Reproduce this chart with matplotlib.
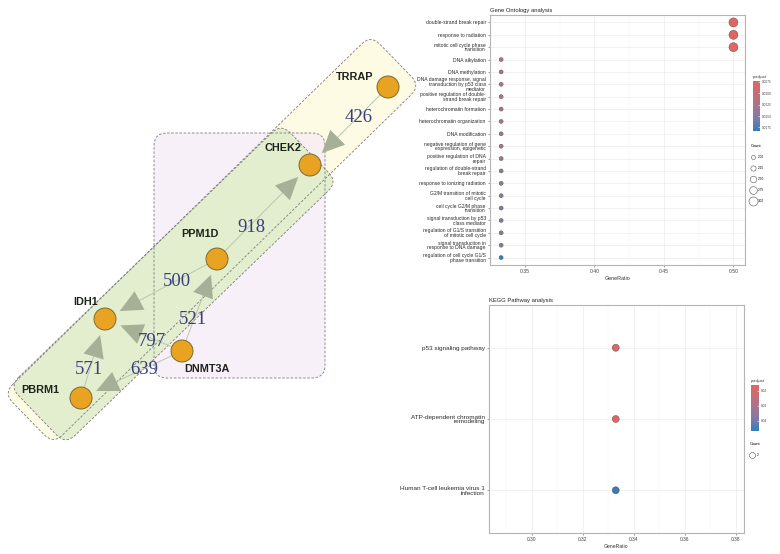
import textwrap
import matplotlib
matplotlib.use('Agg')
import matplotlib.pyplot as plt
from matplotlib.patches import FancyBboxPatch, Circle, FancyArrowPatch
from matplotlib.colors import LinearSegmentedColormap, Normalize
from matplotlib.transforms import Affine2D
from matplotlib.lines import Line2D
import matplotlib.cm as cm

plt.rcParams['font.family'] = ['Liberation Sans', 'DejaVu Sans']

W, H = 780, 554

# ---- network (left panel), pixel layout of the original figure
gene_names = ['TRRAP', 'CHEK2', 'PPM1D', 'IDH1', 'DNMT3A', 'PBRM1']
gene_x = [388, 310, 217, 105, 182, 81]
gene_y = [87, 165, 259, 319, 351, 398]
label_x = [355, 283, 200, 86, 207, 40]
label_y = [77, 148, 234, 302, 369, 390]

edge_src = ['TRRAP', 'PPM1D', 'PPM1D', 'DNMT3A', 'DNMT3A', 'PBRM1', 'DNMT3A']
edge_dst = ['CHEK2', 'CHEK2', 'IDH1', 'IDH1', 'PPM1D', 'IDH1', 'PBRM1']
edge_weight = [426, 918, 500, 797, 521, 571, 639]
weight_x = [359, 251, 177, 152, 193, 89, 144]
weight_y = [117, 227, 282, 341, 319, 369, 369]

# group boxes (yellow, pink, green): centre, length, width, angle
group_cx = [212, 239.5, 173.5]
group_cy = [239.5, 255.5, 284]
group_len = [513, 171, 378]
group_wid = [71, 245, 81]
group_ang = [-44.3, 0, -44.0]
group_fill = ['#fdfbe3', '#f6ecf6', '#e3eecf']
group_alpha = [1.0, 0.75, 1.0]

# ---- GO enrichment
go_terms = ['double-strand break repair', 'response to radiation',
            'mitotic cell cycle phase transition', 'DNA alkylation',
            'DNA methylation',
            'DNA damage response, signal transduction by p53 class mediator',
            'positive regulation of double-strand break repair',
            'heterochromatin formation', 'heterochromatin organization',
            'DNA modification',
            'negative regulation of gene expression, epigenetic',
            'positive regulation of DNA repair',
            'regulation of double-strand break repair',
            'response to ionizing radiation',
            'G2/M transition of mitotic cell cycle',
            'cell cycle G2/M phase transition',
            'signal transduction by p53 class mediator',
            'regulation of G1/S transition of mitotic cell cycle',
            'signal transduction in response to DNA damage',
            'regulation of cell cycle G1/S phase transition']
go_ratio = [0.500, 0.500, 0.500, 0.333, 0.333, 0.333, 0.333, 0.333, 0.333, 0.333,
            0.333, 0.333, 0.333, 0.333, 0.333, 0.333, 0.333, 0.333, 0.333, 0.333]
go_count = [3, 3, 3, 2, 2, 2, 2, 2, 2, 2, 2, 2, 2, 2, 2, 2, 2, 2, 2, 2]
go_padj = [0.0073, 0.0073, 0.0074, 0.0118, 0.0118, 0.0122, 0.0122, 0.0122, 0.0125, 0.0125,
           0.0128, 0.0140, 0.0142, 0.0144, 0.0147, 0.0147, 0.0150, 0.0150, 0.0152, 0.0183]
go_xticks = [0.35, 0.40, 0.45, 0.50]
go_cbar_ticks = [0.0075, 0.0100, 0.0125, 0.0150, 0.0175]
go_count_keys = [2.00, 2.25, 2.50, 2.75, 3.00]

# ---- KEGG enrichment
kegg_terms = ['p53 signaling pathway', 'ATP-dependent chromatin remodeling',
              'Human T-cell leukemia virus 1 infection']
kegg_ratio = [0.333, 0.333, 0.333]
kegg_count = [2, 2, 2]
kegg_padj = [0.0160, 0.0162, 0.0467]
kegg_xticks = [0.30, 0.32, 0.34, 0.36, 0.38]
kegg_cbar_ticks = [0.02, 0.03, 0.04]

# red -> blue, roughly the Lab path ggplot takes
cmap = LinearSegmentedColormap.from_list(
    'padj', ['#e06663', '#c56d77', '#a3768f', '#7d7ba8', '#327eba'])

fig = plt.figure(figsize=(W / 100, H / 100), dpi=100)

# network axes in pixel units
net = fig.add_axes([0, 0, 1, 1])
net.set_xlim(0, W)
net.set_ylim(H, 0)
net.axis('off')


def group_patch(cx, cy, L, Wd, ang, **kw):
    p = FancyBboxPatch((cx - L / 2, cy - Wd / 2), L, Wd,
                       boxstyle='round,pad=0,rounding_size=13', **kw)
    p.set_transform(Affine2D().rotate_deg_around(cx, cy, ang) + net.transData)
    return p


groups = list(zip(group_cx, group_cy, group_len, group_wid, group_ang))
# fills first, dashed outlines on top so every border stays visible
for (cx, cy, L, Wd, ang), fc, al in zip(groups, group_fill, group_alpha):
    net.add_patch(group_patch(cx, cy, L, Wd, ang, facecolor=fc, alpha=al,
                              edgecolor='none', zorder=1))
for cx, cy, L, Wd, ang in groups:
    net.add_patch(group_patch(cx, cy, L, Wd, ang, facecolor='none',
                              edgecolor='#7a7a7a', linewidth=0.6,
                              linestyle=(0, (3, 2)), zorder=2))

pos = {g: (x, y) for g, x, y in zip(gene_names, gene_x, gene_y)}
for s, d in zip(edge_src, edge_dst):
    line = FancyArrowPatch(pos[s], pos[d], arrowstyle='-', shrinkA=8, shrinkB=16,
                           color='#bcc4b0', linewidth=0.7, zorder=3)
    net.add_patch(line)
    head = FancyArrowPatch(pos[s], pos[d], arrowstyle='-|>,head_length=0.9,head_width=0.42',
                           mutation_scale=18, shrinkA=8, shrinkB=12,
                           color='#a6b097', linewidth=0.0, zorder=3)
    net.add_patch(head)

for w, x, y in zip(edge_weight, weight_x, weight_y):
    net.text(x, y, str(w), ha='center', va='center', fontsize=13.5,
             family='Liberation Serif', color='#3b3f80', zorder=4)

for g, x, y in zip(gene_names, gene_x, gene_y):
    net.add_patch(Circle((x, y), 11, facecolor='#e8a323', edgecolor='#7d6a2e',
                         linewidth=0.7, zorder=5))
for g, x, y in zip(gene_names, label_x, label_y):
    net.text(x, y, g, ha='center', va='center', fontsize=7.8, fontweight='bold',
             color='#1e231b', zorder=6)


def dot_diam(c, cmin, cmax, dmin, dmax):
    if cmax == cmin:
        return (dmin + dmax) / 2
    return dmin + (c - cmin) / (cmax - cmin) * (dmax - dmin)


def enrich_panel(rect, terms, ratio, count, padj, xlim, xticks, minor, fmt,
                 title, ysize, xsize, dmin, dmax, cmin, cmax):
    ax = fig.add_axes(rect)
    n = len(terms)
    norm = Normalize(min(padj), max(padj))
    sizes = [(dot_diam(c, cmin, cmax, dmin, dmax) * 0.72) ** 2 for c in count]
    cols = cmap(norm(padj))
    ax.scatter(ratio, range(n), s=sizes, c=cols, edgecolors='#4a4a4a',
               linewidths=0.3, zorder=3)
    ax.set_xlim(*xlim)
    ax.set_ylim(n - 0.4, -0.6)
    ax.set_yticks(range(n))
    ax.set_yticklabels([textwrap.fill(t, 30) for t in terms], fontsize=ysize,
                       linespacing=0.95, color='#2a2a2a')
    ax.set_xticks(xticks)
    ax.set_xticklabels([fmt % v for v in xticks], fontsize=xsize, color='#444444')
    ax.set_xticks(minor, minor=True)
    ax.tick_params(which='major', length=1.5, width=0.4, color='#555555', pad=1.5)
    ax.tick_params(which='minor', length=0)
    ax.grid(which='major', color='#ebebeb', linewidth=0.5)
    ax.grid(which='minor', axis='x', color='#f4f4f4', linewidth=0.35)
    ax.set_axisbelow(True)
    for sp in ax.spines.values():
        sp.set_color('#b4b4b4')
        sp.set_linewidth(0.8)
    ax.set_xlabel('GeneRatio', fontsize=xsize + 0.2, labelpad=1.5, color='#333333')
    ax.set_title(title, loc='left', fontsize=4.2, pad=2.5, color='#222222')
    return ax, norm


ax_go, go_norm = enrich_panel([490 / W, 1 - 265 / H, 255 / W, 250 / H],
                              go_terms, go_ratio, go_count, go_padj,
                              (0.325, 0.5083), go_xticks, [0.375, 0.425, 0.475], '%.2f',
                              'Gene Ontology analysis', 3.6, 3.7, 4, 9, 2, 3)

ax_kegg, kegg_norm = enrich_panel([489 / W, 1 - 533 / H, 255 / W, 228 / H],
                                  kegg_terms, kegg_ratio, kegg_count, kegg_padj,
                                  (0.2833, 0.3833), kegg_xticks, [0.29, 0.31, 0.33, 0.35, 0.37],
                                  '%.2f', 'KEGG Pathway analysis', 4.6, 3.5, 7, 7, 2, 2)


def padj_bar(rect, norm, ticks, fmt):
    cax = fig.add_axes(rect)
    cb = fig.colorbar(cm.ScalarMappable(norm=norm, cmap=cmap), cax=cax)
    cb.set_ticks(ticks)
    cb.set_ticklabels([fmt % t for t in ticks])
    cax.invert_yaxis()
    cb.outline.set_visible(False)
    cax.tick_params(labelsize=2.3, length=1.5, width=0.4, color='white',
                    direction='in', pad=1.5, labelcolor='#444444')
    cax.set_title('p.adjust', loc='left', fontsize=2.9, pad=2, color='#333333')
    return cax


def count_legend(anchor, keys, diams, fmt):
    handles = [Line2D([], [], marker='o', ls='', mfc='none', mec='#555555',
                      mew=0.4, ms=d * 0.72) for d in diams]
    fig.legend(handles, [fmt % k for k in keys], loc='upper left',
               bbox_to_anchor=anchor, frameon=False, fontsize=2.3,
               title='Count', title_fontsize=2.9, alignment='left',
               labelspacing=2.2, handletextpad=0.8, borderpad=0, borderaxespad=0,
               handlelength=1.2)


padj_bar([753 / W, 1 - 131 / H, 7 / W, 50 / H], go_norm, go_cbar_ticks, '%.4f')
count_legend((751 / W, 1 - 144 / H), go_count_keys,
             [dot_diam(k, 2, 3, 4, 9) for k in go_count_keys], '%.2f')

padj_bar([751 / W, 1 - 431 / H, 8 / W, 46 / H], kegg_norm, kegg_cbar_ticks, '%.2f')
count_legend((750 / W, 1 - 442 / H), [2], [6], '%d')

fig.savefig('out.png', dpi=100)
